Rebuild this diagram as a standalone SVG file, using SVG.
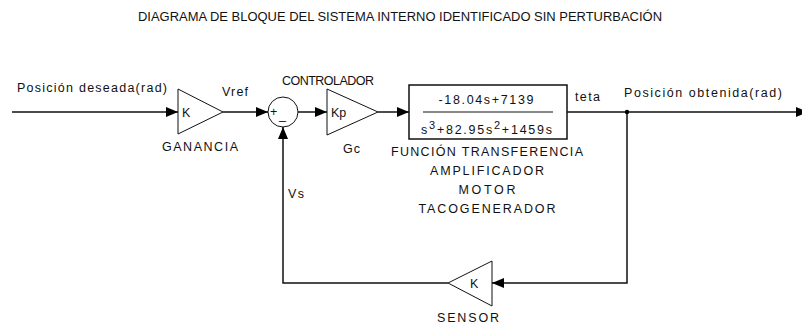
<svg xmlns="http://www.w3.org/2000/svg" width="802" height="324" viewBox="0 0 802 324">
<style>
text{font-family:"Liberation Sans",Arial,sans-serif;font-size:12.5px;fill:#111}
.blk{fill:#fff;stroke:#111;stroke-width:1}
.box{fill:#fff;stroke:#111;stroke-width:1.5}
.wire{fill:none;stroke:#111;stroke-width:1.5}
</style>
<defs>
<marker id="ah" viewBox="0 0 12 10" refX="12" refY="5" markerWidth="12" markerHeight="10" markerUnits="userSpaceOnUse" orient="auto">
<path d="M0,0 L12,5 L0,10 z" fill="#000"/>
</marker>
</defs>
<rect width="802" height="324" fill="#fff"/>
<text id="title" x="138" y="21" font-size="12.5" textLength="524" lengthAdjust="spacingAndGlyphs">DIAGRAMA DE BLOQUE DEL SISTEMA INTERNO IDENTIFICADO SIN PERTURBACIÓN</text>
<g id="connectors">
<path class="wire" d="M12,112 H178" marker-end="url(#ah)"/>
<path class="wire" d="M223,112 H268" marker-end="url(#ah)"/>
<path class="wire" d="M298,112 H327" marker-end="url(#ah)"/>
<path class="wire" d="M378,112 H409" marker-end="url(#ah)"/>
<path class="wire" d="M567,112 H808" marker-end="url(#ah)"/>
<path class="wire" d="M627,112 V283 H492" marker-end="url(#ah)"/>
<path class="wire" d="M448,283 H283 V127" marker-end="url(#ah)"/>
<circle cx="627" cy="112" r="2.2" fill="#000"/>
<text x="17" y="92" textLength="150" lengthAdjust="spacing">Posición deseada(rad)</text>
<text x="222" y="96" textLength="26" lengthAdjust="spacing">Vref</text>
<text x="575" y="101" textLength="25" lengthAdjust="spacing">teta</text>
<text x="624" y="97" textLength="158" lengthAdjust="spacing">Posición obtenida(rad)</text>
<text x="288" y="198" textLength="16" lengthAdjust="spacing">Vs</text>
</g>
<g id="ganancia">
<polygon class="blk" points="178,89 178,134 223,112"/>
<text x="182" y="117">K</text>
<text x="162" y="151" textLength="76" lengthAdjust="spacing">GANANCIA</text>
</g>
<g id="suma">
<circle class="blk" cx="283" cy="112" r="15"/>
<text x="270" y="116" font-size="11">+</text>
<text x="279" y="119" font-size="11">_</text>
</g>
<g id="controlador">
<polygon class="blk" points="327,89 327,135 378,112"/>
<text x="331" y="117">Kp</text>
<text x="343" y="153" textLength="17" lengthAdjust="spacing">Gc</text>
<text x="282" y="85" font-size="11" textLength="92" lengthAdjust="spacing">CONTROLADOR</text>
</g>
<g id="transferencia">
<rect class="box" x="409" y="85" width="158" height="54"/>
<line x1="423" y1="112" x2="553" y2="112" stroke="#111" stroke-width="1.2"/>
<text x="486" y="104" text-anchor="middle" textLength="95" lengthAdjust="spacing">-18.04s+7139</text>
<text x="421" y="134" textLength="131" lengthAdjust="spacing">s<tspan dy="-5" font-size="11">3</tspan><tspan dy="5">+82.95s</tspan><tspan dy="-5" font-size="11">2</tspan><tspan dy="5">+1459s</tspan></text>
<text x="487" y="156" text-anchor="middle" textLength="192" lengthAdjust="spacing">FUNCIÓN TRANSFERENCIA</text>
<text x="487" y="175" text-anchor="middle" textLength="114" lengthAdjust="spacing">AMPLIFICADOR</text>
<text x="487" y="194" text-anchor="middle" textLength="57" lengthAdjust="spacing">MOTOR</text>
<text x="487" y="213" text-anchor="middle" textLength="137" lengthAdjust="spacing">TACOGENERADOR</text>
</g>
<g id="sensor">
<polygon class="blk" points="492,261 492,306 448,283"/>
<text x="470" y="288">K</text>
<text x="437" y="322" textLength="62" lengthAdjust="spacing">SENSOR</text>
</g>
</svg>
